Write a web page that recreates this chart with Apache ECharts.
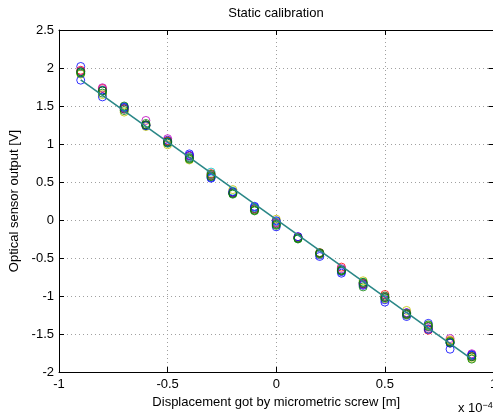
<!DOCTYPE html>
<html>
<head>
<meta charset="utf-8">
<script src="https://cdn.jsdelivr.net/npm/echarts@6/dist/echarts.min.js"></script>
<style>
html,body{margin:0;padding:0;background:#fff;}
#chart{width:493px;height:415px;}
</style>
</head>
<body>
<div id="chart"></div>
<script>
// Displacement positions (units of 1e-4 m)
const displacement = [-0.9,-0.8,-0.7,-0.6,-0.5,-0.4,-0.3,-0.2,-0.1,0,0.1,0.2,0.3,0.4,0.5,0.6,0.7,0.8,0.9];

// Measured sensor outputs [V], one array per run
const runBlue1   = [2.02,1.71,1.49,1.25,1.05,0.87,0.56,0.36,0.17,-0.09,-0.23,-0.46,-0.70,-0.84,-1.08,-1.22,-1.36,-1.70,-1.77];
const runRed     = [1.97,1.73,1.47,1.25,1.04,0.84,0.61,0.37,0.15,-0.03,-0.23,-0.43,-0.62,-0.83,-0.98,-1.24,-1.45,-1.59,-1.79];
const runCyan    = [1.94,1.70,1.48,1.24,1.02,0.83,0.63,0.38,0.16,-0.02,-0.24,-0.45,-0.65,-0.82,-1.03,-1.23,-1.40,-1.61,-1.78];
const runMagenta = [1.96,1.74,1.46,1.31,1.07,0.85,0.59,0.36,0.14,-0.04,-0.22,-0.44,-0.64,-0.85,-1.01,-1.22,-1.41,-1.56,-1.76];
const runYellow  = [1.92,1.65,1.42,1.23,0.99,0.79,0.58,0.40,0.13,0.01,-0.23,-0.45,-0.67,-0.80,-1.04,-1.19,-1.39,-1.58,-1.82];
const runBlack   = [1.95,1.70,1.46,1.25,1.03,0.82,0.58,0.35,0.15,-0.05,-0.24,-0.44,-0.66,-0.84,-1.02,-1.24,-1.43,-1.62,-1.80];
const runBlue2   = [1.84,1.62,1.48,1.24,1.02,0.85,0.55,0.37,0.18,-0.01,-0.22,-0.48,-0.68,-0.86,-1.05,-1.27,-1.44,-1.62,-1.78];
const runGreen1  = [1.95,1.70,1.50,1.27,1.03,0.81,0.60,0.34,0.12,-0.06,-0.25,-0.44,-0.66,-0.88,-1.02,-1.25,-1.38,-1.60,-1.80];
const runGreen2  = [1.93,1.67,1.44,1.25,1.01,0.80,0.57,0.35,0.13,-0.07,-0.24,-0.43,-0.67,-0.82,-1.00,-1.23,-1.40,-1.61,-1.83];

// Linear fit endpoints
const fitX = [-0.9, 0.9];
const fitY = [1.845, -1.83];

const xTicks = [-1, -0.5, 0, 0.5, 1];
const yTicks = [-2, -1.5, -1, -0.5, 0, 0.5, 1, 1.5, 2, 2.5];

const runs = [
  {data: runBlue1, color:'#0000ff'},
  {data: runRed, color:'#ff0000'},
  {data: runCyan, color:'#00bfbf'},
  {data: runMagenta, color:'#bf00bf'},
  {data: runYellow, color:'#bfbf00'},
  {data: runBlack, color:'#404040'},
  {data: runBlue2, color:'#0000ff'},
  {data: runGreen1, color:'#008000'},
  {data: runGreen2, color:'#008000'}
];

const FONT = '"Liberation Sans", Arial, sans-serif';
const chart = echarts.init(document.getElementById('chart'), null, {renderer:'canvas'});

const series = runs.map(r => ({
  type:'scatter',
  xAxisIndex:0, yAxisIndex:0,
  symbol:'circle',
  symbolSize:8,
  itemStyle:{color:'rgba(0,0,0,0)', borderColor:r.color, borderWidth:1},
  data: displacement.map((x,i)=>[x, r.data[i]]),
  z:2
}));
series.push({
  type:'line',
  xAxisIndex:0, yAxisIndex:0,
  data: fitX.map((x,i)=>[x, fitY[i]]),
  showSymbol:false,
  lineStyle:{color:'#2a8787', width:1.6},
  z:3
});

const gridLine = {show:true, lineStyle:{color:'#a0a0a0', type:[1,3], width:1}};
const axLine = {show:true, onZero:false, lineStyle:{color:'#000', width:1}};
const tick = {show:true, inside:true, length:5, lineStyle:{color:'#000'}};

chart.setOption({
  animation:false,
  backgroundColor:'#fff',
  grid:{left:59, top:30, width:434.5, height:342, containLabel:false, outerBoundsMode:'none'},
  xAxis:[
    {type:'value', min:-1, max:1, interval:0.5, position:'bottom',
     axisLine:axLine, axisTick:tick, splitLine:gridLine,
     axisLabel:{show:true, color:'#000', fontFamily:FONT, fontSize:13, margin:6, showMaxLabel:true, showMinLabel:true,
       formatter: v => String(xTicks.find(t=>Math.abs(t-v)<1e-9) ?? v)},
     name:'Displacement got by micrometric screw [m]', nameLocation:'middle', nameGap:21,
     nameTextStyle:{color:'#000', fontFamily:FONT, fontSize:13, verticalAlign:'top'}},
    {type:'value', min:-1, max:1, interval:0.5, position:'top',
     axisLine:axLine, axisTick:tick, splitLine:{show:false}, axisLabel:{show:false}}
  ],
  yAxis:[
    {type:'value', min:-2, max:2.5, interval:0.5, position:'left',
     axisLine:axLine, axisTick:tick, splitLine:gridLine,
     axisLabel:{show:true, color:'#000', fontFamily:FONT, fontSize:13, margin:5,
       formatter: v => String(yTicks.find(t=>Math.abs(t-v)<1e-9) ?? v)},
     name:'Optical sensor output [V]', nameLocation:'middle', nameGap:37,
     nameTextStyle:{color:'#000', fontFamily:FONT, fontSize:13}},
    {type:'value', min:-2, max:2.5, interval:0.5, position:'right',
     axisLine:axLine, axisTick:tick, splitLine:{show:false}, axisLabel:{show:false}}
  ],
  graphic:[
    {type:'text', style:{text:'Static calibration', x:276, y:7, textAlign:'center', fill:'#000', font:'13px ' + FONT}},
    {type:'text', style:{rich:{a:{fontFamily:FONT, fontSize:13, fill:'#000'}, s:{fontFamily:FONT, fontSize:9, fill:'#000', verticalAlign:'top', padding:[0,0,6,0]}},
      text:'{a|x 10}{s|\u22124}', x:458, y:401, fill:'#000'}}
  ],
  series: series
});
</script>
</body>
</html>
